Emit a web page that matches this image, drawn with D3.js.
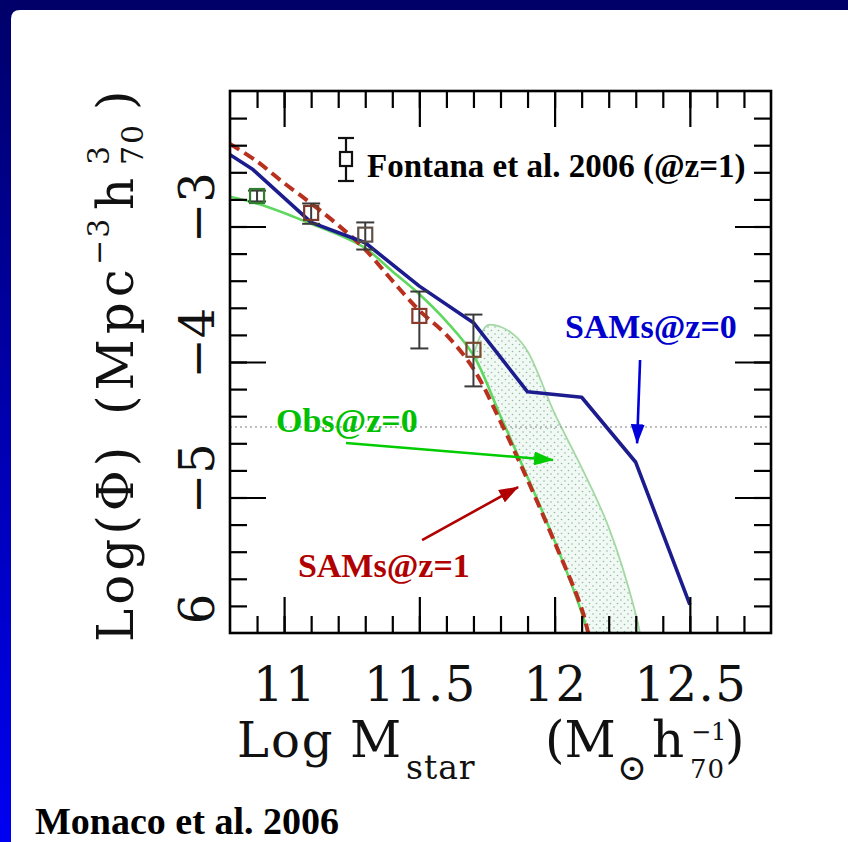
<!DOCTYPE html>
<html>
<head>
<meta charset="utf-8">
<script src="https://cdn.jsdelivr.net/npm/d3@7"></script>
<style>
  html, body { margin: 0; padding: 0; background: #ffffff; }
  svg { display: block; }
</style>
</head>
<body>
<script>
// ---- Stellar mass function data: log M_star vs log Phi ----
// Semi-analytic model at z=0
const samsZ0Mass = [10.80, 10.885, 11.10, 11.30, 11.50, 11.70, 11.90, 12.10, 12.30, 12.50];
const samsZ0Phi  = [-2.47, -2.58, -2.97, -3.12, -3.44, -3.71, -4.22, -4.26, -4.74, -5.79];

// Semi-analytic model at z=1
const samsZ1Mass = [10.80, 10.90, 11.00, 11.10, 11.20, 11.30, 11.40, 11.50, 11.60, 11.70, 11.80, 11.90, 12.00, 12.10, 12.13];
const samsZ1Phi  = [-2.39, -2.52, -2.68, -2.83, -2.99, -3.17, -3.40, -3.62, -3.80, -4.05, -4.44, -4.87, -5.33, -5.82, -6.05];

// Observed z=0 mass function (lower edge of the uncertainty band)
const obsZ0Mass  = [10.80, 10.90, 11.00, 11.10, 11.20, 11.30, 11.40, 11.50, 11.60, 11.70, 11.80, 11.90, 12.00, 12.10, 12.13];
const obsZ0Lower = [-2.78, -2.83, -2.90, -2.98, -3.06, -3.16, -3.33, -3.50, -3.70, -3.95, -4.40, -4.85, -5.32, -5.85, -6.05];

// Upper edge of the observed z=0 band
const obsBandMass  = [11.70, 11.75, 11.80, 11.85, 11.90, 12.00, 12.10, 12.20, 12.30, 12.32];
const obsBandUpper = [-3.95, -3.73, -3.74, -3.80, -3.92, -4.38, -4.78, -5.22, -5.86, -6.05];

// Fontana et al. 2006 points at z=1 with asymmetric errors
const fontanaMass  = [10.90, 11.10, 11.30, 11.50, 11.70];
const fontanaPhi   = [-2.775, -2.90, -3.06, -3.66, -3.91];
const fontanaErrHi = [0.04, 0.07, 0.09, 0.18, 0.26];
const fontanaErrLo = [0.04, 0.08, 0.11, 0.24, 0.27];
const fontanaColors = ["#2f7f2f", "#7a3a2a", "#5e5248", "#8a3a2a", "#7a4a30"];

// Axis ticks and labels
const xTickValues = [11, 11.5, 12, 12.5];
const xTickLabels = ["11", "11.5", "12", "12.5"];
const yTickValues = [-6, -5, -4, -3];
const yTickLabels = ["6", "\u22125", "\u22124", "\u22123"];
const refLevel = -4.48;

// ---- Layout ----
const W = 848, H = 842;
const P = { left: 230, right: 771, top: 91, bottom: 633 };
const serif = "'DejaVu Serif', serif";
const times = "'Liberation Serif', 'Times New Roman', serif";

const svg = d3.select("body").append("svg")
  .attr("width", W).attr("height", H)
  .attr("viewBox", `0 0 ${W} ${H}`);

const defs = svg.append("defs");

// slide frame gradient on the left edge
const grad = defs.append("linearGradient").attr("id", "edge")
  .attr("x1", 0).attr("y1", 0).attr("x2", 0).attr("y2", 1);
grad.append("stop").attr("offset", "0%").attr("stop-color", "#00006a");
grad.append("stop").attr("offset", "100%").attr("stop-color", "#0000f2");

// stippled fill for the observational band
const pat = defs.append("pattern").attr("id", "stipple")
  .attr("width", 7).attr("height", 7).attr("patternUnits", "userSpaceOnUse");
pat.append("rect").attr("width", 7).attr("height", 7).attr("fill", "#f1f9f5");
pat.append("circle").attr("cx", 1.5).attr("cy", 1.5).attr("r", 0.8).attr("fill", "#93b7a0");
pat.append("circle").attr("cx", 5).attr("cy", 5).attr("r", 0.8).attr("fill", "#93b7a0");

defs.append("clipPath").attr("id", "plotClip")
  .append("rect").attr("x", P.left).attr("y", P.top)
  .attr("width", P.right - P.left).attr("height", P.bottom - P.top);

function arrowMarker(id, color) {
  defs.append("marker").attr("id", id)
    .attr("markerUnits", "userSpaceOnUse")
    .attr("viewBox", "0 0 20 14").attr("refX", 19).attr("refY", 7)
    .attr("markerWidth", 20).attr("markerHeight", 14)
    .attr("orient", "auto")
    .append("path").attr("d", "M0,0 L20,7 L0,14 Z").attr("fill", color);
}
arrowMarker("arrBlue", "#0000dd");
arrowMarker("arrGreen", "#00cc00");
arrowMarker("arrRed", "#b00000");

// ---- Slide background ----
svg.append("rect").attr("width", W).attr("height", H).attr("fill", "#000068");
svg.append("rect").attr("x", 0).attr("y", 0).attr("width", 11).attr("height", H).attr("fill", "url(#edge)");
const r = 9, px0 = 11, py0 = 10;
svg.append("path")
  .attr("d", `M${px0},${H} L${px0},${py0 + r} Q${px0},${py0} ${px0 + r},${py0} L${W},${py0} L${W},${H} Z`)
  .attr("fill", "#ffffff");

// ---- Scales ----
const x = d3.scaleLinear().domain([10.8, 12.8]).range([P.left, P.right]);
const y = d3.scaleLinear().domain([-6, -2]).range([P.bottom, P.top]);

const zip = (xs, ys) => xs.map((v, i) => [v, ys[i]]);

const plot = svg.append("g").attr("clip-path", "url(#plotClip)");

// observational band
const smooth = d3.line().x(d => x(d[0])).y(d => y(d[1])).curve(d3.curveCatmullRom.alpha(0.5));
const straight = d3.line().x(d => x(d[0])).y(d => y(d[1]));
const upperPts = zip(obsBandMass, obsBandUpper);
const lowerPts = zip(obsZ0Mass, obsZ0Lower).filter(d => d[0] >= obsBandMass[0]).reverse();
const bandPath = smooth(upperPts) + "L" + smooth(lowerPts).slice(1) + "Z";
plot.append("path").attr("d", bandPath).attr("fill", "url(#stipple)").attr("stroke", "none");
plot.append("path").attr("d", smooth(upperPts))
  .attr("fill", "none").attr("stroke", "#a3d8a3").attr("stroke-width", 1.8);

// horizontal reference level
plot.append("line")
  .attr("x1", P.left).attr("x2", P.right)
  .attr("y1", y(refLevel)).attr("y2", y(refLevel))
  .attr("stroke", "#a8a8a8").attr("stroke-width", 1.6).attr("stroke-dasharray", "2,3");

// observed z=0 line
plot.append("path").attr("d", smooth(zip(obsZ0Mass, obsZ0Lower)))
  .attr("fill", "none").attr("stroke", "#5fd85f").attr("stroke-width", 2.6);

// SAMs z=1 dashed
plot.append("path").attr("d", smooth(zip(samsZ1Mass, samsZ1Phi)))
  .attr("fill", "none").attr("stroke", "#b8301e").attr("stroke-width", 4)
  .attr("stroke-dasharray", "11,6");

// SAMs z=0 solid
plot.append("path").attr("d", straight(zip(samsZ0Mass, samsZ0Phi)))
  .attr("fill", "none").attr("stroke", "#1c1c8e").attr("stroke-width", 3.6)
  .attr("stroke-linejoin", "round");

// Fontana et al. points
const pts = svg.append("g");
fontanaMass.forEach((m, i) => {
  const cx = x(m), top = y(fontanaPhi[i] + fontanaErrHi[i]), bot = y(fontanaPhi[i] - fontanaErrLo[i]);
  const g = pts.append("g").attr("stroke", "#3a3a3a").attr("stroke-width", 2).attr("fill", "none");
  g.append("line").attr("x1", cx).attr("x2", cx).attr("y1", top).attr("y2", bot);
  g.append("line").attr("x1", cx - 9).attr("x2", cx + 9).attr("y1", top).attr("y2", top);
  g.append("line").attr("x1", cx - 9).attr("x2", cx + 9).attr("y1", bot).attr("y2", bot);
  pts.append("rect").attr("x", cx - 7).attr("y", y(fontanaPhi[i]) - 7)
    .attr("width", 14).attr("height", 14)
    .attr("fill", "none").attr("stroke", fontanaColors[i]).attr("stroke-width", 2.2);
});

// ---- Axes: frame plus inward ticks on all four sides ----
const xMinor = d3.range(109, 128).map(v => v / 10);
const yMinor = d3.range(-29, -10).map(v => v / 5);
const yMajor = [-5, -4, -3];
function ticks(axis, tx, ty) {
  const g = svg.append("g").attr("transform", `translate(${tx},${ty})`).call(axis);
  g.select(".domain").remove();
  g.selectAll("text").remove();
  g.selectAll("line").attr("stroke", "#000").attr("stroke-width", 2.2);
}
ticks(d3.axisBottom(x).tickValues(xMinor).tickSize(-17), 0, P.bottom);
ticks(d3.axisBottom(x).tickValues(xTickValues).tickSize(-36), 0, P.bottom);
ticks(d3.axisTop(x).tickValues(xMinor).tickSize(-17), 0, P.top);
ticks(d3.axisTop(x).tickValues(xTickValues).tickSize(-36), 0, P.top);
ticks(d3.axisLeft(y).tickValues(yMinor).tickSize(-17), P.left, 0);
ticks(d3.axisLeft(y).tickValues(yMajor).tickSize(-36), P.left, 0);
ticks(d3.axisRight(y).tickValues(yMinor).tickSize(-17), P.right, 0);
ticks(d3.axisRight(y).tickValues(yMajor).tickSize(-36), P.right, 0);

svg.append("rect").attr("x", P.left).attr("y", P.top)
  .attr("width", P.right - P.left).attr("height", P.bottom - P.top)
  .attr("fill", "none").attr("stroke", "#000").attr("stroke-width", 2.6);

// x tick labels
svg.append("g").selectAll("text").data(xTickValues).join("text")
  .attr("x", d => x(d) + 1).attr("y", 701)
  .attr("text-anchor", "middle")
  .attr("font-family", serif).attr("font-size", 48).attr("letter-spacing", 1.5)
  .attr("fill", "#111")
  .text((d, i) => xTickLabels[i]);

// y tick labels (rotated)
svg.append("g").selectAll("text").data(yTickValues).join("text")
  .attr("transform", d => `translate(214,${y(d) - (d === -6 ? 24 : 19)}) rotate(-90)`)
  .attr("text-anchor", "middle")
  .attr("font-family", serif).attr("font-size", 48)
  .attr("fill", "#111")
  .text((d, i) => yTickLabels[i]);

// ---- Axis titles ----
function word(parent, xx, yy, str, size, spacing) {
  parent.append("text").attr("x", xx).attr("y", yy)
    .attr("font-family", serif).attr("font-size", size)
    .attr("letter-spacing", spacing || 0)
    .attr("fill", "#111").text(str);
}
// x title
const xt = svg.append("g");
word(xt, 237, 757, "Log", 48, 2);
word(xt, 350, 757, "M", 50);
word(xt, 406, 779, "star", 33, 1);
word(xt, 545, 757, "(M", 50, 0);
word(xt, 617, 780, "\u2299", 36);
word(xt, 652, 757, "h", 50);
word(xt, 691, 740, "\u22121", 24);
word(xt, 690, 778, "70", 26, 1);
word(xt, 725, 757, ")", 50);

// y title (rotated, reads upward; x here runs up the page from y=642)
const yt = svg.append("g").attr("transform", "translate(133,642) rotate(-90)");
word(yt, 0, 0, "Log(\u03a6)", 50, 4);
word(yt, 227, 0, "(Mpc", 50, 5);
word(yt, 377, -24, "\u22123", 30, 2);
word(yt, 432, 0, "h", 50);
word(yt, 477, -24, "3", 30);
word(yt, 477, 10, "70", 30, 2);
word(yt, 532, 0, ")", 50);

// ---- Legend ----
const lx = 346;
const lg = svg.append("g").attr("stroke", "#111").attr("stroke-width", 2.2).attr("fill", "none");
lg.append("line").attr("x1", lx).attr("x2", lx).attr("y1", 138).attr("y2", 181);
lg.append("line").attr("x1", lx - 8).attr("x2", lx + 8).attr("y1", 138).attr("y2", 138);
lg.append("line").attr("x1", lx - 8).attr("x2", lx + 8).attr("y1", 181).attr("y2", 181);
lg.append("rect").attr("x", lx - 6).attr("y", 152).attr("width", 12).attr("height", 14).attr("fill", "#fff");
svg.append("text").attr("x", 367).attr("y", 177)
  .attr("font-family", times).attr("font-weight", "bold").attr("font-size", 33).attr("fill", "#000")
  .text("Fontana et al. 2006 (@z=1)");

// ---- Annotations (placed in data coordinates) ----
function label(mx, my, str, color) {
  svg.append("text").attr("x", x(mx)).attr("y", y(my))
    .attr("font-family", times).attr("font-weight", "bold").attr("font-size", 34)
    .attr("fill", color).text(str);
}
function arrow(m0, p0, m1, p1, color, id) {
  svg.append("line").attr("x1", x(m0)).attr("y1", y(p0)).attr("x2", x(m1)).attr("y2", y(p1))
    .attr("stroke", color).attr("stroke-width", 2.6).attr("marker-end", `url(#${id})`);
}
label(12.038, -3.82, "SAMs@z=0", "#0000cc");
arrow(12.316, -3.985, 12.305, -4.60, "#0000dd", "arrBlue");
label(10.97, -4.52, "Obs@z=0", "#00c000");
arrow(11.229, -4.598, 11.994, -4.723, "#00cc00", "arrGreen");
label(11.051, -5.59, "SAMs@z=1", "#b00000");
arrow(11.51, -5.314, 11.865, -4.923, "#b00000", "arrRed");

// ---- Citation ----
svg.append("text").attr("x", 35).attr("y", 834)
  .attr("font-family", times).attr("font-weight", "bold").attr("font-size", 38).attr("fill", "#000")
  .text("Monaco et al. 2006");
</script>
</body>
</html>
